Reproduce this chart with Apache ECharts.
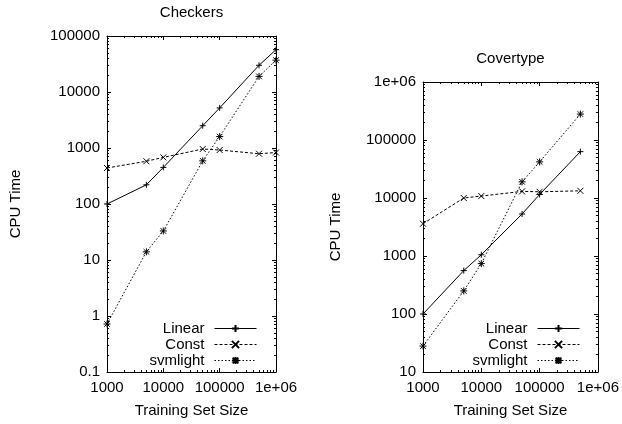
<!DOCTYPE html>
<html>
<head>
<meta charset="utf-8">
<script src="https://cdn.jsdelivr.net/npm/echarts@6/dist/echarts.min.js"></script>
<style>
html,body{margin:0;padding:0;background:#fff;}
#c{width:622px;height:424px;}
</style>
</head>
<body>
<div id="c"></div>
<script>
// ---- data ----
var checkersSizes = [1000, 5000, 10000, 50000, 100000, 500000, 1000000];
var checkersLinear = [100, 220, 450, 2500, 5200, 30000, 57000];
var checkersConst = [440, 580, 680, 960, 920, 790, 830];
var checkersSvm = [0.72, 14, 33, 590, 1600, 19000, 37000];

var covSizes = [1000, 5000, 10000, 50000, 100000, 500000];
var covLinear = [100, 560, 1050, 5300, 11500, 63000];
var covConst = [3600, 10000, 10800, 13000, 12800, 13300];
var covSvm = [28, 250, 740, 19000, 42000, 280000];

var seriesNames = ['Linear', 'Const', 'svmlight'];
var chartTitles = ['Checkers', 'Covertype'];
var xName = 'Training Set Size';
var yName = 'CPU Time';

var FONT = 'Liberation Sans, Arial, Helvetica, sans-serif';

function pairs(xs, ys) { return xs.map(function (x, i) { return [x, ys[i]]; }); }
// minor tick positions (2..9 per decade), expressed as exponents for a linear helper axis
function minorExp(lo, hi) {
  var out = [];
  for (var e = Math.round(Math.log10(lo)); e < Math.round(Math.log10(hi)); e++) {
    for (var k = 2; k <= 9; k++) out.push(e + Math.log10(k));
  }
  return out;
}
function fmt(v) { return v >= 1e6 ? '1e+06' : String(v); }

var grids = [
  { left: 107, top: 35, width: 169, height: 337 },
  { left: 423, top: 82, width: 175, height: 290 }
];
var xr = [[1000, 1e6], [1000, 1e6]];
var yr = [[0.1, 100000], [10, 1e6]];
var yNameGap = [84, 80];

function minorAxis(g, pos, range) {
  var lo = Math.log10(range[0]), hi = Math.log10(range[1]);
  return {
    type: 'value', gridIndex: g, position: pos, min: lo, max: hi,
    splitLine: { show: false }, axisLine: { show: false, onZero: false }, axisLabel: { show: false },
    axisTick: { show: true, inside: true, length: 2, lineStyle: { color: '#000' }, customValues: minorExp(range[0], range[1]) }
  };
}

var xAxes = [], yAxes = [];
for (var g = 0; g < 2; g++) {
  var base = { type: 'log', logBase: 10, gridIndex: g, splitLine: { show: false } };
  xAxes.push(Object.assign({}, base, {
    position: 'bottom', min: xr[g][0], max: xr[g][1],
    axisLine: { show: true, onZero: false, lineStyle: { color: '#000', width: 1 } },
    axisTick: { show: true, inside: true, length: 4, lineStyle: { color: '#000' } },
    axisLabel: { show: true, color: '#000', fontSize: 15, fontFamily: FONT, margin: 8, formatter: fmt },
    name: xName, nameLocation: 'middle', nameGap: 31,
    nameTextStyle: { color: '#000', fontSize: 15, fontFamily: FONT }
  }));
  xAxes.push(minorAxis(g, 'bottom', xr[g]));
  xAxes.push(Object.assign({}, base, {
    position: 'top', min: xr[g][0], max: xr[g][1],
    axisLine: { show: true, onZero: false, lineStyle: { color: '#000', width: 1 } },
    axisTick: { show: true, inside: true, length: 4, lineStyle: { color: '#000' } },
    axisLabel: { show: false },
    name: chartTitles[g], nameLocation: 'middle', nameGap: 16,
    nameTextStyle: { color: '#000', fontSize: 15, fontFamily: FONT }
  }));
  xAxes.push(minorAxis(g, 'top', xr[g]));

  yAxes.push(Object.assign({}, base, {
    position: 'left', min: yr[g][0], max: yr[g][1],
    axisLine: { show: true, onZero: false, lineStyle: { color: '#000', width: 1 } },
    axisTick: { show: true, inside: true, length: 4, lineStyle: { color: '#000' } },
    axisLabel: { show: true, color: '#000', fontSize: 15, fontFamily: FONT, margin: 7, formatter: fmt },
    name: yName, nameLocation: 'middle', nameGap: yNameGap[g],
    nameTextStyle: { color: '#000', fontSize: 15, fontFamily: FONT }
  }));
  yAxes.push(minorAxis(g, 'left', yr[g]));
  yAxes.push(Object.assign({}, base, {
    position: 'right', min: yr[g][0], max: yr[g][1],
    axisLine: { show: true, onZero: false, lineStyle: { color: '#000', width: 1 } },
    axisTick: { show: true, inside: true, length: 4, lineStyle: { color: '#000' } },
    axisLabel: { show: false }
  }));
  yAxes.push(minorAxis(g, 'right', yr[g]));
}

var SYM_PLUS = 'path://M0,5L10,5M5,0L5,10';
var SYM_X = 'path://M0,0L10,10M10,0L0,10';
var SYM_STAR = 'path://M0,5L10,5M5,0L5,10M1,1L9,9M9,1L1,9';
var styles = [
  { symbol: SYM_PLUS, size: 6, type: 'solid' },
  { symbol: SYM_X, size: 6, type: [3, 2] },
  { symbol: SYM_STAR, size: 7, type: [1.5, 2] }
];

function mkSeries(name, idx, data, g) {
  var st = styles[idx];
  return {
    name: name, type: 'line', data: data,
    xAxisIndex: g * 4, yAxisIndex: g * 4,
    symbol: st.symbol, symbolSize: st.size, showSymbol: true, showAllSymbol: true,
    animation: false, silent: true, clip: false,
    lineStyle: { color: '#000', width: 1, type: st.type },
    itemStyle: { color: '#000', borderColor: '#000', borderWidth: 1 }
  };
}

var series = [
  mkSeries(seriesNames[0], 0, pairs(checkersSizes, checkersLinear), 0),
  mkSeries(seriesNames[1], 1, pairs(checkersSizes, checkersConst), 0),
  mkSeries(seriesNames[2], 2, pairs(checkersSizes, checkersSvm), 0),
  mkSeries(seriesNames[0], 0, pairs(covSizes, covLinear), 1),
  mkSeries(seriesNames[1], 1, pairs(covSizes, covConst), 1),
  mkSeries(seriesNames[2], 2, pairs(covSizes, covSvm), 1)
];

function mkLegend(right) {
  return {
    data: seriesNames, orient: 'vertical', align: 'right',
    right: right, top: 321, padding: 0, itemGap: 1,
    itemWidth: 42, itemHeight: 9, selectedMode: false,
    lineStyle: { width: 1 },
    textStyle: { color: '#000', fontSize: 15, fontFamily: FONT, padding: [0, 5, 0, 0] }
  };
}

var chart = echarts.init(document.getElementById('c'), null, { renderer: 'canvas' });
chart.setOption({
  animation: false,
  backgroundColor: '#fff',
  grid: grids,
  xAxis: xAxes,
  yAxis: yAxes,
  legend: [mkLegend(365), mkLegend(42)],
  series: series
});
</script>
</body>
</html>
